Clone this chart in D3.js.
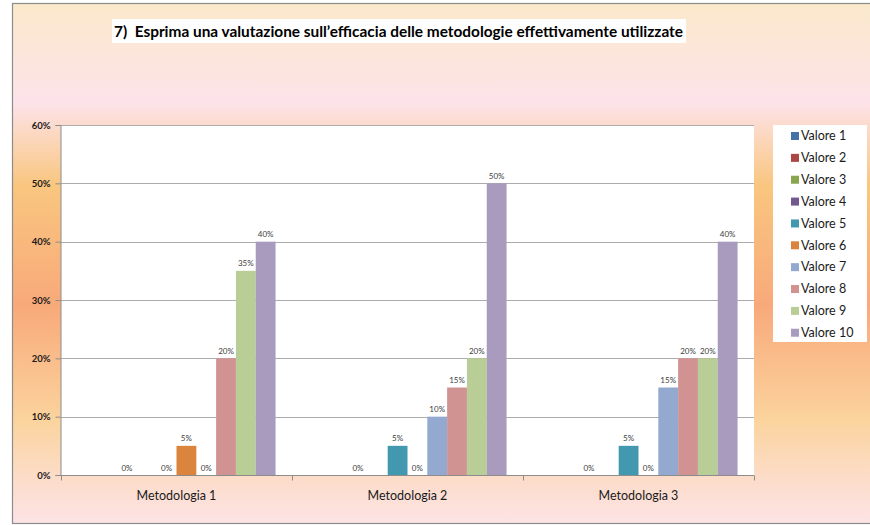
<!DOCTYPE html>
<html>
<head>
<meta charset="utf-8">
<script src="https://cdn.jsdelivr.net/npm/d3@7"></script>
<style>
  html, body { margin: 0; padding: 0; background: #ffffff; }
  svg { display: block; }
</style>
</head>
<body>
<svg id="chart" width="870" height="525"></svg>
<script>
// Categories and series
const categories = ["Metodologia 1", "Metodologia 2", "Metodologia 3"];
const seriesNames = ["Valore 1", "Valore 2", "Valore 3", "Valore 4", "Valore 5",
                     "Valore 6", "Valore 7", "Valore 8", "Valore 9", "Valore 10"];

// Percent values per series, one per category (null = no answer recorded)
const valore1  = [null, null, null];
const valore2  = [null, null, null];
const valore3  = [0, 0, 0];
const valore4  = [null, null, null];
const valore5  = [0, 5, 5];
const valore6  = [5, 0, 0];
const valore7  = [0, 10, 15];
const valore8  = [20, 15, 20];
const valore9  = [35, 20, 20];
const valore10 = [40, 50, 40];

const yTicks = [0, 10, 20, 30, 40, 50, 60];
const titleText = "7)  Esprima una valutazione sull\u2019efficacia delle metodologie effettivamente utilizzate";

const seriesValues = [valore1, valore2, valore3, valore4, valore5,
                      valore6, valore7, valore8, valore9, valore10];
const colors = ["#4572A7", "#AA4643", "#89A54E", "#71588F", "#4198AF",
                "#DB843D", "#93A9CF", "#D19392", "#B9CD96", "#A99BBD"];

const svg = d3.select("#chart");
const font = "Lato, 'Open Sans', sans-serif";

// Background gradient of the chart area
const defs = svg.append("defs");
const grad = defs.append("linearGradient")
  .attr("id", "bg").attr("x1", 0).attr("y1", 0).attr("x2", 0).attr("y2", 1);
[[0, "#FBE9CB"], [0.19, "#FDE3EA"], [0.35, "#F9C67F"], [0.58, "#F8A97A"],
 [0.80, "#FBD39D"], [0.92, "#FCDDCB"], [1, "#FDE3E6"]].forEach(([o, c]) =>
  grad.append("stop").attr("offset", o).attr("stop-color", c));

svg.append("rect")
  .attr("x", 12.5).attr("y", 3.5).attr("width", 880).attr("height", 520)
  .attr("fill", "url(#bg)").attr("stroke", "#8C8C8C").attr("stroke-width", 1.2);

// Title on a white panel
svg.append("rect")
  .attr("x", 112).attr("y", 19).attr("width", 574).attr("height", 24)
  .attr("fill", "#ffffff");
svg.append("text")
  .attr("x", 114).attr("y", 36.5)
  .style("white-space", "pre")
  .attr("font-family", font).attr("font-weight", "bold").attr("font-size", 14.5)
  .attr("fill", "#000")
  .attr("textLength", 569).attr("lengthAdjust", "spacingAndGlyphs")
  .text(titleText);

// Plot area
const plotLeft = 61, plotRight = 754, plotTop = 125, plotBottom = 475;

svg.append("rect")
  .attr("x", plotLeft).attr("y", plotTop)
  .attr("width", plotRight - plotLeft).attr("height", plotBottom - plotTop)
  .attr("fill", "#ffffff");

const x0 = d3.scaleBand().domain(categories).range([plotLeft, plotRight])
  .paddingInner(0).paddingOuter(0);
const x1 = d3.scaleBand().domain(seriesNames).range([0, x0.bandwidth()])
  .paddingInner(0).paddingOuter(0.83);
const y = d3.scaleLinear().domain([0, 60]).range([plotBottom, plotTop]);

// Gridlines
svg.append("g").selectAll("line")
  .data(yTicks.filter(t => t > 0))
  .join("line")
  .attr("x1", plotLeft).attr("x2", plotRight)
  .attr("y1", d => Math.round(y(d)) + 0.5).attr("y2", d => Math.round(y(d)) + 0.5)
  .attr("stroke", "#ACACAC").attr("stroke-width", 1);

// Bars
const flat = [];
seriesNames.forEach((s, si) => {
  categories.forEach((c, ci) => {
    flat.push({ s, si, c, v: seriesValues[si][ci] });
  });
});

svg.append("g").selectAll("rect")
  .data(flat.filter(d => d.v !== null && d.v > 0))
  .join("rect")
  .attr("x", d => x0(d.c) + x1(d.s))
  .attr("y", d => y(d.v))
  .attr("width", x1.bandwidth())
  .attr("height", d => y(0) - y(d.v))
  .attr("fill", d => colors[d.si]);

// Value labels
svg.append("g").selectAll("text")
  .data(flat.filter(d => d.v !== null))
  .join("text")
  .attr("x", d => x0(d.c) + x1(d.s) + x1.bandwidth() / 2)
  .attr("y", d => y(d.v) - 4.5)
  .attr("text-anchor", "middle")
  .attr("font-family", font).attr("font-size", 8)
  .attr("fill", "#404040")
  .text(d => d.v + "%");

// Y axis
const yAxis = d3.axisLeft(y).tickValues(yTicks).tickSize(5).tickPadding(5)
  .tickFormat(d => d + "%");
const gy = svg.append("g").attr("transform", `translate(${plotLeft - 0.5},0)`).call(yAxis);
gy.select(".domain").attr("stroke", "#8C8C8C");
gy.selectAll(".tick line").attr("stroke", "#8C8C8C");
gy.selectAll(".tick text")
  .attr("font-family", font).attr("font-weight", "bold").attr("font-size", 9.5)
  .attr("fill", "#1a1a1a");

// X axis: ticks at category boundaries
const gx = svg.append("g").attr("transform", `translate(0,${plotBottom + 0.5})`);
gx.append("line").attr("x1", plotLeft).attr("x2", plotRight).attr("stroke", "#8C8C8C");
const boundaries = categories.map(c => x0(c))
  .concat([x0(categories[categories.length - 1]) + x0.bandwidth()]);
gx.selectAll("line.tk").data(boundaries).join("line").attr("class", "tk")
  .attr("x1", d => Math.round(d) + 0.5).attr("x2", d => Math.round(d) + 0.5)
  .attr("y1", 0).attr("y2", 5).attr("stroke", "#8C8C8C");
gx.selectAll("text").data(categories).join("text")
  .attr("x", d => x0(d) + x0.bandwidth() / 2)
  .attr("y", 24)
  .attr("text-anchor", "middle")
  .attr("font-family", font).attr("font-size", 12.5)
  .attr("fill", "#1a1a1a")
  .text(d => d);

// Legend
const lg = svg.append("g");
lg.append("rect").attr("x", 773).attr("y", 125).attr("width", 94).attr("height", 217)
  .attr("fill", "#ffffff");
const items = lg.selectAll("g.item").data(seriesNames).join("g").attr("class", "item")
  .attr("transform", (d, i) => `translate(791,${136 + i * 21.86})`);
items.append("rect").attr("x", 0).attr("y", -4).attr("width", 8).attr("height", 8)
  .attr("fill", (d, i) => colors[i]);
items.append("text").attr("x", 10).attr("y", 4.3)
  .attr("font-family", font).attr("font-size", 12.5).attr("fill", "#1a1a1a")
  .text(d => d);
</script>
</body>
</html>
